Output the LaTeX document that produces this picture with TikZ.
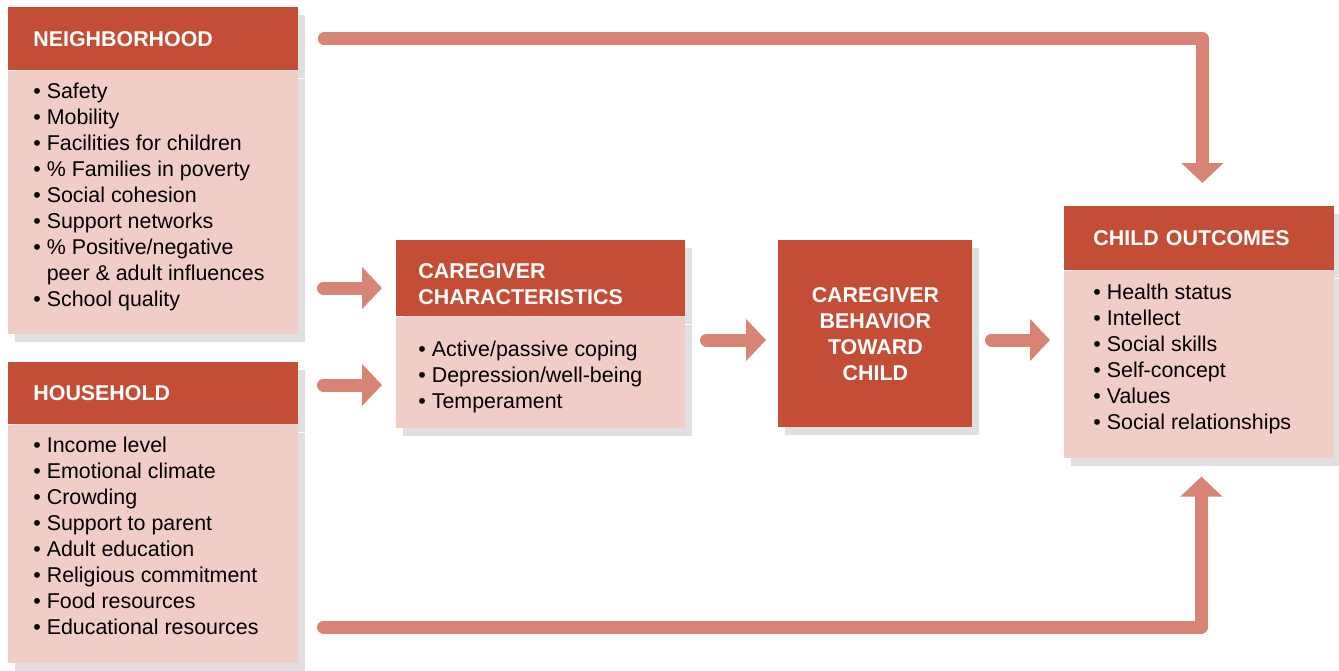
\documentclass[tikz,border=0pt]{standalone}
\usepackage{fontspec}
\setmainfont{Liberation Sans}
\usetikzlibrary{arrows.meta,positioning,shadows}
\definecolor{hdred}{RGB}{196,78,53}
\definecolor{boxpink}{RGB}{240,205,199}
\definecolor{flowred}{RGB}{216,132,116}
\definecolor{shadowgray}{RGB}{224,224,224}
\newcommand{\bl}{\textbullet\ }
\begin{document}
\begin{tikzpicture}[x=0.5pt,y=-0.5pt,
		box/.style={anchor=north west, inner sep=0pt, drop shadow={shadow xshift=3.5pt, shadow yshift=-4pt, fill=shadowgray, opacity=1}},
		head/.style={box, fill=hdred, text=white, font=\bfseries\fontsize{10.7}{13}\selectfont, align=left},
		body/.style={box, fill=boxpink},
		list/.style={anchor=base west, inner sep=0pt, align=left, font=\fontsize{10.7}{13}\selectfont},
		flow/.style={draw=flowred, line width=6.5pt, line cap=round, line join=round, -{Triangle[width=20.5pt,length=10pt]}}]
	\useasboundingbox (0,0) rectangle (1339,670);

	\node[head, inner xsep=12.5pt, text width=120pt, minimum height=31.5pt] (nbh) at (8,7) {NEIGHBORHOOD};
	\node[body, minimum width=145pt, minimum height=131.5pt] (nbhbody) at (nbh.south west) {};
	\node[list] (nbhlist) at ([xshift=12.5pt,yshift=-118pt]nbhbody.north west) {\bl Safety\\\bl Mobility\\\bl Facilities for children\\\bl \% Families in poverty\\\bl Social cohesion\\\bl Support networks\\\bl \% Positive/negative\\\hphantom{\bl}peer \& adult influences\\\bl School quality};

	\node[head, inner xsep=12.5pt, text width=120pt, minimum height=31pt] (hh) at (8,362) {HOUSEHOLD};
	\node[body, minimum width=145pt, minimum height=119pt] (hhbody) at (hh.south west) {};
	\node[list] (hhlist) at ([xshift=12.5pt,yshift=-105pt]hhbody.north west) {\bl Income level\\\bl Emotional climate\\\bl Crowding\\\bl Support to parent\\\bl Adult education\\\bl Religious commitment\\\bl Food resources\\\bl Educational resources};

	\node[head, inner xsep=11pt, text width=122.5pt, minimum height=38pt, text height=13pt, text depth=13pt] (cc) at (396,240) {CAREGIVER\\CHARACTERISTICS};
	\node[body, minimum width=144.5pt, minimum height=55.5pt] (ccbody) at (cc.south west) {};
	\node[list] (cclist) at ([xshift=11pt,yshift=-46pt]ccbody.north west) {\bl Active/passive coping\\\bl Depression/well-being\\\bl Temperament};

	\node[head, align=center, minimum width=97pt, minimum height=93.5pt] (beh) at (778,240) {CAREGIVER\\BEHAVIOR\\TOWARD\\CHILD};

	\node[head, inner xsep=14.5pt, text width=106pt, minimum height=32pt] (child) at (1064,206) {CHILD OUTCOMES};
	\node[body, minimum width=135pt, minimum height=93.5pt] (childbody) at (child.south west) {};
	\node[list] (childlist) at ([xshift=14.5pt,yshift=-79.5pt]childbody.north west) {\bl Health status\\\bl Intellect\\\bl Social skills\\\bl Self-concept\\\bl Values\\\bl Social relationships};

	\coordinate (n1) at (323.5,288);
	\coordinate (h1) at (323.5,385);
	\coordinate (c1) at (706.5,340);
	\coordinate (b1) at (991.5,340);
	\coordinate (hhout) at (323.5,627);

	\draw[flow, shorten >=11.5pt] ([xshift=12.75pt]nbh.east) -| ([xshift=1.5pt]child.north);
	\draw[flow, shorten >=7pt] (n1) -- (n1 -| cc.west);
	\draw[flow, shorten >=7pt] (h1) -- (h1 -| cc.west);
	\draw[flow, shorten >=6pt] (c1) -- (c1 -| beh.west);
	\draw[flow, shorten >=7pt] (b1) -- (b1 -| child.west);
	\draw[flow, shorten >=9pt] (hhout) -| ([xshift=1pt]childbody.south);
\end{tikzpicture}
\end{document}
